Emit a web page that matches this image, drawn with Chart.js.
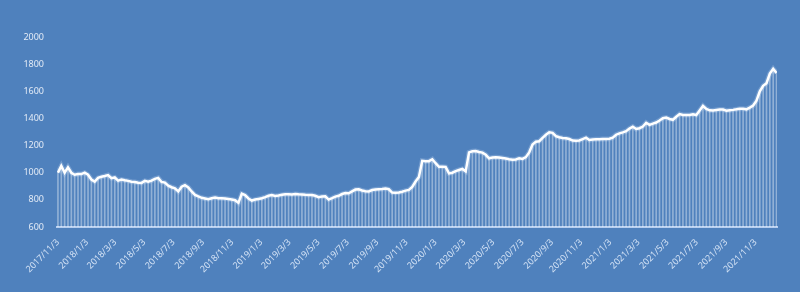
<!DOCTYPE html>
<html lang="en">
  <head>
    <meta charset="UTF-8" />
    <title>Weekly index 2017-2021</title>
    <script src="https://cdn.jsdelivr.net/npm/chart.js@4"></script>
    <style>
      body { margin: 0; background: #4f81bd; }
      canvas { display: block; }
    </style>
  </head>
  <body>
    <canvas id="myChart" width="800" height="292"></canvas>

    <script>
      // weekly series, first point on 2017/11/3
      const startDate = '2017/11/3';
      const stepDays = 7;

      const values = [
        1000, 1050, 1000, 1040, 1000, 985, 990, 990, 1000, 985,
        950, 935, 962, 970, 976, 983, 960, 965, 942, 950,
        944, 940, 934, 932, 926, 925, 940, 934, 942, 955,
        962, 932, 927, 905, 893, 885, 862, 897, 908, 892,
        862, 836, 825, 815, 810, 805, 812, 818, 812, 811,
        810, 807, 803, 797, 778, 845, 835, 810, 795, 802,
        807, 812, 820, 830, 835, 828, 832, 837, 842, 841,
        840, 843, 841, 840, 837, 836, 835, 830, 820, 824,
        826, 802, 812, 824, 830, 843, 850, 848, 862, 876,
        878, 869, 863, 862, 872, 876, 879, 880, 883, 878,
        854, 853, 855, 860, 868, 873, 895, 935, 968, 1088,
        1085, 1085, 1099, 1070, 1044, 1044, 1042, 995, 1000, 1012,
        1020, 1028, 1010, 1150, 1158, 1160, 1153, 1148, 1132, 1106,
        1112, 1114, 1112, 1108, 1104, 1099, 1096, 1098, 1106, 1102,
        1115, 1150, 1207, 1229, 1232, 1257, 1280, 1298, 1294, 1270,
        1261, 1256, 1254, 1248, 1237, 1236, 1238, 1248, 1258, 1241,
        1245, 1246, 1246, 1248, 1249, 1250, 1258, 1280, 1290, 1297,
        1306, 1325, 1339, 1322, 1328, 1340, 1368, 1353, 1362, 1370,
        1385, 1402, 1406, 1396, 1390, 1412, 1432, 1426, 1425, 1426,
        1430, 1425, 1458, 1492, 1470, 1460, 1458, 1462, 1465, 1465,
        1457, 1460, 1463, 1467, 1472, 1472, 1467, 1480, 1495, 1530,
        1600, 1640, 1660, 1730, 1765, 1735
      ];

      const tickLabels = [
        '2017/11/3', '2018/1/3', '2018/3/3', '2018/5/3', '2018/7/3',
        '2018/9/3', '2018/11/3', '2019/1/3', '2019/3/3', '2019/5/3',
        '2019/7/3', '2019/9/3', '2019/11/3', '2020/1/3', '2020/3/3',
        '2020/5/3', '2020/7/3', '2020/9/3', '2020/11/3', '2021/1/3',
        '2021/3/3', '2021/5/3', '2021/7/3', '2021/9/3', '2021/11/3'
      ];

      const yTicks = [600, 800, 1000, 1200, 1400, 1600, 1800, 2000];

      function dayNum(s) {
        const p = s.split('/').map(Number);
        return Date.UTC(p[0], p[1] - 1, p[2]) / 86400000;
      }

      const day0 = dayNum(startDate);
      const tickDays = tickLabels.map(t => dayNum(t) - day0);
      const points = values.map((v, i) => ({ x: i * stepDays, y: v }));

      const ctx = document.getElementById('myChart').getContext('2d');
      const tickFont = { family: 'Noto Sans', size: 9 };

      const myChart = new Chart(ctx, {
        type: 'bar',
        data: {
          datasets: [
            {
              type: 'line',
              data: points,
              borderColor: '#ffffff',
              borderWidth: 2.5,
              pointRadius: 0,
              tension: 0,
              order: 0
            },
            {
              type: 'line',
              data: points,
              borderColor: 'rgba(220,235,255,0.25)',
              borderWidth: 5,
              pointRadius: 0,
              tension: 0,
              order: 1
            },
            {
              type: 'bar',
              data: points,
              backgroundColor: 'rgba(255,255,255,0.38)',
              barThickness: 1,
              order: 2
            }
          ]
        },
        options: {
          responsive: false,
          animation: false,
          layout: { padding: { top: 37, right: 23, left: 0, bottom: 0 } },
          plugins: { legend: { display: false }, tooltip: { enabled: false } },
          scales: {
            x: {
              type: 'linear',
              offset: false,
              min: -2,
              max: 1506,
              grid: { display: false, offset: false },
              border: { display: true, color: '#b7cff0', width: 2 },
              afterBuildTicks: scale => {
                scale.ticks = tickDays.map(d => ({ value: d }));
              },
              afterFit: scale => {
                scale.height = 65;
                scale.paddingLeft = 0;
                scale.paddingRight = 0;
              },
              ticks: {
                autoSkip: false,
                minRotation: 45,
                maxRotation: 45,
                padding: 2,
                color: '#d3e2f5',
                font: tickFont,
                callback: (value, index) => tickLabels[index]
              }
            },
            y: {
              min: 600,
              max: 2000,
              grid: { display: false },
              border: { display: false },
              afterBuildTicks: scale => {
                scale.ticks = yTicks.map(v => ({ value: v }));
              },
              afterFit: scale => {
                scale.width = 57;
                scale.paddingTop = 0;
                scale.paddingBottom = 0;
              },
              ticks: {
                padding: 5,
                color: '#e3ebf6',
                font: tickFont,
                callback: value => String(value)
              }
            }
          }
        }
      });
    </script>
  </body>
</html>
